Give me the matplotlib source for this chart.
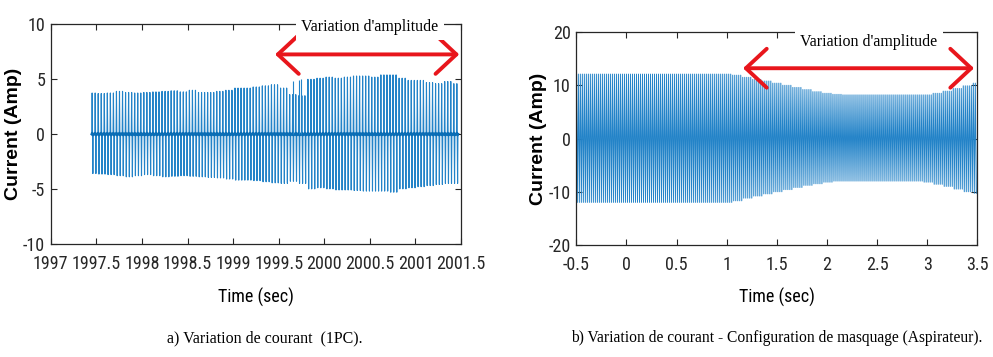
import numpy as np
import matplotlib
matplotlib.use("Agg")
import matplotlib.pyplot as plt
import matplotlib.font_manager as fm

# ---- data ----------------------------------------------------------------
# (a) PC current: pulse peak envelope, one value every 0.1 s from 1997.45 s
pc_t0 = 1997.45
pc_step = 0.1
pc_pos = [3.75, 3.7, 3.75, 3.9, 3.8, 3.75, 3.8, 3.85, 3.9, 3.95,
          3.85, 4.0, 3.8, 3.8, 3.9, 4.0, 4.2, 4.2, 4.3, 4.4,
          4.5, 4.2, 3.6, 3.5, 5.0, 5.1, 5.2, 5.1, 5.2, 5.3,
          5.3, 5.2, 5.4, 5.4, 5.1, 4.9, 4.9, 4.7, 4.6, 4.8, 4.6]
pc_neg = [-3.6, -3.65, -3.7, -3.8, -3.9, -3.8, -3.7, -3.8, -3.9, -3.85,
          -3.8, -3.85, -3.9, -3.95, -4.0, -4.1, -4.2, -4.2, -4.25, -4.35,
          -4.45, -4.5, -4.3, -4.5, -5.0, -4.9, -5.0, -5.1, -5.1, -5.15,
          -5.2, -5.2, -5.2, -5.3, -5.0, -4.9, -4.8, -4.7, -4.6, -4.5, -4.5]
pc_rate = 30          # pulses per second
pc_extra_t = [1999.66, 1999.72, 1999.74]   # isolated tall pulses in the dip
pc_extra_a = [4.8, 4.9, 5.0]

# (b) vacuum cleaner current: peak envelope every 0.1 s from -0.5 s
vc_t0 = -0.5
vc_step = 0.1
vc_pos = [12.1] * 16 + [11.9, 11.5, 11.1, 10.8, 10.4, 10.0, 9.6, 9.2, 8.8, 8.5,
                        8.3, 8.2, 8.2, 8.2, 8.2, 8.2, 8.2, 8.2, 8.2, 8.2,
                        8.5, 8.9, 9.4, 9.9, 10.4]
vc_neg = [-12.0] * 16 + [-11.7, -11.2, -10.8, -10.4, -10.0, -9.6, -9.2, -8.8, -8.5, -8.2,
                         -8.0, -8.0, -8.0, -8.0, -8.0, -8.0, -8.0, -8.0, -8.0, -8.2,
                         -8.6, -9.0, -9.5, -10.0, -10.3]
vc_freq = 50

xt_a = [1997, 1997.5, 1998, 1998.5, 1999, 1999.5, 2000, 2000.5, 2001, 2001.5]
xl_a = ['1997', '1997.5', '1998', '1998.5', '1999', '1999.5', '2000', '2000.5', '2001', '2001.5']
yt_a = [-10, -5, 0, 5, 10]
xt_b = [-0.5, 0, 0.5, 1, 1.5, 2, 2.5, 3, 3.5]
xl_b = ['-0.5', '0', '0.5', '1', '1.5', '2', '2.5', '3', '3.5']
yt_b = [-20, -10, 0, 10, 20]

blue = '#2383c8'
red = '#e8161c'
serif_font = ['Liberation Serif', 'DejaVu Serif']


# narrow sans for the axis text if one is installed
def narrow_font():
    names = {f.name for f in fm.fontManager.ttflist}
    for n in ['Liberation Sans Narrow', 'Roboto Condensed', 'Open Sans Condensed',
              'Noto Sans Condensed', 'DejaVu Sans Condensed', 'Arial Narrow']:
        if n in names:
            return fm.FontProperties(family=n), True
    for f in fm.fontManager.ttflist:
        if f.stretch in ('condensed', 'semi-condensed') and f.style == 'normal' \
                and f.name in ('DejaVu Sans', 'Noto Sans', 'Roboto', 'Open Sans'):
            return fm.FontProperties(family=f.name, stretch=f.stretch), True
    return fm.FontProperties(family='Liberation Sans'), False


tick_fp, is_narrow = narrow_font()
tick_size = 13 if is_narrow else 10


def env_at(t, t0, step, env):
    k = int(round((t - t0) / step))
    k = min(max(k, 0), len(env) - 1)
    return env[k]


# build pulse waveform for (a)
d = 0.004
n_pc = int(round(4.0 * pc_rate))
t_a, i_a = [], []
for k in range(n_pc + 1):
    tk = pc_t0 + k / pc_rate
    t_a += [tk, tk + d, tk + 2 * d, tk + 3 * d, tk + 4 * d]
    i_a += [0, env_at(tk, pc_t0, pc_step, pc_pos), 0,
            env_at(tk, pc_t0, pc_step, pc_neg), 0]
t_a = np.array(t_a); i_a = np.array(i_a)

# zig-zag through successive peaks for (b)
n_vc = int(round(4.0 * vc_freq))
t_b, i_b = [], []
for k in range(n_vc):
    tk = vc_t0 + k / vc_freq
    t_b += [tk, tk + 0.5 / vc_freq]
    i_b += [env_at(tk, vc_t0, vc_step, vc_pos), env_at(tk, vc_t0, vc_step, vc_neg)]
t_b = np.array(t_b); i_b = np.array(i_b)

fig = plt.figure(figsize=[9.93, 3.57], dpi=100)
axA = fig.add_axes([0.0511, 0.3174, 0.4132, 0.614])
axB = fig.add_axes([0.5804, 0.3137, 0.4038, 0.5966])


def style(ax, xt, xl, yt, ylab_x):
    ax.set_xticks(xt)
    ax.set_xticklabels(xl, fontproperties=tick_fp, fontsize=tick_size)
    ax.set_yticks(yt)
    ax.set_yticklabels([str(v) for v in yt], fontproperties=tick_fp, fontsize=tick_size)
    ax.tick_params(direction='in', top=True, right=True, length=4, width=0.8,
                   colors='#262626')
    ax.tick_params(axis='x', pad=8)
    ax.tick_params(axis='y', pad=4)
    for s in ax.spines.values():
        s.set_color('#262626'); s.set_linewidth(0.9)
    ax.set_xlabel('Time (sec)', fontproperties=tick_fp, fontsize=tick_size)
    ax.xaxis.set_label_coords(0.5, -0.2)
    ax.set_ylabel('Current (Amp)', family=['Liberation Sans', 'DejaVu Sans'],
                  fontsize=14, fontweight='bold')
    ax.yaxis.set_label_coords(ylab_x, 0.5)


# (a)
axA.plot(t_a, i_a, color=blue, lw=0.8)
axA.plot(t_a, np.clip(i_a, -0.1, 0.1), color='#0a6db5', lw=1.8)
axA.vlines(pc_extra_t, 0, pc_extra_a, color=blue, lw=0.8)
axA.set_xlim(1997, 2001.5)
axA.set_ylim(-10, 10)
style(axA, xt_a, xl_a, yt_a, -0.07)
axA.annotate('', xy=(2001.48, 7.27), xytext=(1999.46, 7.27), annotation_clip=False,
             arrowprops=dict(arrowstyle='<->,head_length=0.75,head_width=0.7',
                             mutation_scale=20, lw=2.8, color=red,
                             shrinkA=0, shrinkB=0))
axA.text(2000.5, 9.43, "Variation d'amplitude", family=serif_font, fontsize=11.5,
         ha='center', va='baseline', clip_on=False,
         bbox=dict(fc='white', ec='none', pad=4))

# (b)
axB.plot(t_b, i_b, color=blue, lw=0.7)
axB.set_xlim(-0.5, 3.5)
axB.set_ylim(-20, 20)
style(axB, xt_b, xl_b, yt_b, -0.073)
axB.annotate('', xy=(3.467, 13.2), xytext=(1.163, 13.2), annotation_clip=False,
             arrowprops=dict(arrowstyle='<->,head_length=0.75,head_width=0.7',
                             mutation_scale=20, lw=2.8, color=red,
                             shrinkA=0, shrinkB=0))
axB.text(2.417, 17.37, "Variation d'amplitude", family=serif_font, fontsize=11.5,
         ha='center', va='baseline', clip_on=False,
         bbox=dict(fc='white', ec='none', pad=4))

fig.text(0.267, 0.053, 'a) Variation de courant  (1PC).', family=serif_font,
         fontsize=11.5, ha='center', va='center')
fig.text(0.782, 0.053, 'b) Variation de courant - Configuration de masquage (Aspirateur).',
         family=serif_font, fontsize=11.2, ha='center', va='center')

fig.savefig('out.png', dpi=100)
